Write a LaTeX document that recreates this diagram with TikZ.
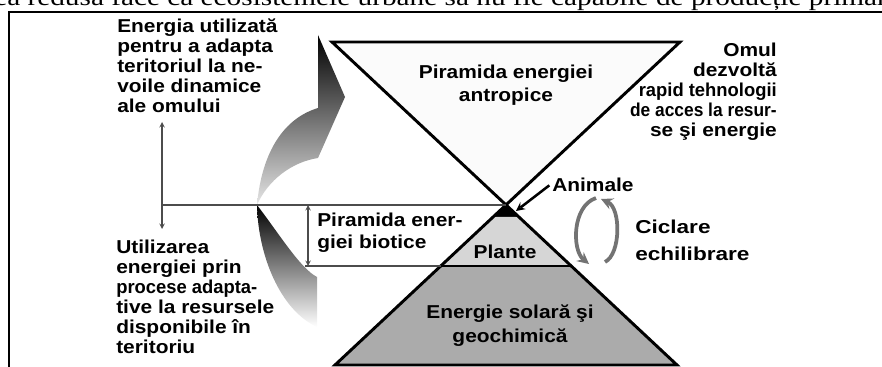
\documentclass[tikz,border=0pt]{standalone}
\usepackage{fontspec}
\setmainfont{Liberation Serif}
\newfontfamily\lblfont[FakeStretch=1.12]{Liberation Sans}
\usetikzlibrary{positioning}
\newcommand{\narrowtxt}[2]{\scalebox{#1}[1]{#2}}
\tikzset{
  lbl/.style={font=\lblfont\bfseries\fontsize{14}{15}\selectfont, inner sep=0pt},
  edge line/.style={line width=2.2pt, line join=miter},
  thin line/.style={gray!60!black, line width=0.8pt},
  cycle arrow/.style={gray!90!black, line width=2.8pt, ->},
}

\begin{document}
\begin{tikzpicture}[x=0.75pt, y=-0.75pt, >=stealth]
\useasboundingbox (0,0) rectangle (882,367);

% text of the page above and the frame
\node [font=\fontsize{18}{18}\selectfont, anchor=base west, inner sep=0pt] (pagetxt) at (-6,6)
  {\narrowtxt{1.22}{ea redusă face ca ecosistemele urbane să nu fie capabile de producție primară}};
\draw [line width=1.6pt] (9,372) -- (9,12) -- (886,12);

% hourglass
\coordinate (top-l) at (332,42);
\coordinate (top-r) at (680,42);
\coordinate (cross) at (506,205);
\coordinate (base-l) at (335,365);
\coordinate (base-r) at (677,365);
\coordinate (plante-l) at (441,266);
\coordinate (plante-r) at (571,266);

\fill [gray!3] (top-l) -- (top-r) -- (cross) -- cycle;
\foreach \ya/\yb/\c in {205/217/black, 217/266/gray!32, 266/365/gray!66} {
  \pgfmathsetmacro\da{(\ya-205)*1.067}
  \pgfmathsetmacro\db{(\yb-205)*1.067}
  \fill [\c] (506-\da,\ya) -- (506+\da,\ya) -- (506+\db,\yb) -- (506-\db,\yb) -- cycle;
}
\draw [edge line] (top-l) -- (top-r) -- (base-l) -- (base-r) -- cycle;
\draw [edge line] (plante-l) -- (plante-r);

% big curved arrow
\coordinate (bend) at (257,205);
\shade [top color=black, bottom color=gray!20]
  (bend) .. controls (262,150) and (285,118) .. (318,108)
  -- (318,35) -- (345,97) -- (318,158)
  .. controls (292,162) and (268,180) .. (bend);
\shade [top color=black, bottom color=white]
  (bend) .. controls (258,255) and (280,310) .. (317,327)
  -- (317,277)
  .. controls (300,268) and (280,235) .. (bend);

% labels
\node [lbl, anchor=north west, align=left] (enutil) at (117,19)
  {Energia utilizată\\pentru a adapta\\teritoriul la ne-\\voile dinamice\\ale omului};
\node [lbl, anchor=north west, align=left] (utiliz) at (116,240)
  {Utilizarea\\energiei prin\\\narrowtxt{0.88}{procese adapta-}\\tive la resursele\\disponibile în\\teritoriu};
\node [lbl, anchor=north, align=center] (antrop) at (506,65)
  {Piramida energiei\\[2pt]antropice};
\node [lbl, anchor=north east, align=right] (omul) at (777,43)
  {Omul\\dezvoltă\\\narrowtxt{0.88}{rapid tehnologii}\\\narrowtxt{0.83}{de acces la resur-}\\se şi energie};
\node [lbl, anchor=base west] (animale) at (552,192) {Animale};
\node [lbl, anchor=north west, align=left] (biotic) at (317,213)
  {Piramida ener-\\[1pt]giei biotice};
\node [lbl, anchor=base] (plante) at (505,258) {Plante};
\node [lbl, anchor=north, align=center] (solar) at (510,305)
  {Energie solară şi\\[3pt]geochimică};
\node [lbl, anchor=north west, align=left] (ciclare) at (635,220)
  {\narrowtxt{1.08}{Ciclare}\\[5pt]\narrowtxt{1.08}{echilibrare}};

% thin guide lines
\coordinate (lv-top) at (162,122);
\coordinate (lv-bot) at (162,229);
\coordinate (lv-mid) at (162,205);
\coordinate (bio-top) at (308,205);
\coordinate (bio-bot) at (308,266);
\coordinate (bio-l) at (305,266);
\draw [thin line] (lv-mid) -- (cross);
\draw [thin line, <->] (lv-top) -- (lv-bot);
\draw [thin line] (bio-l) -- (plante-l);
\draw [thin line, <->] (bio-top) -- (bio-bot);

% arrow to the animals
\coordinate (tip) at (516,211);
\draw [->, line width=1.9pt] ([xshift=-2pt]animale.west) -- (tip);

% cycling arrows
\coordinate (cyc-l1) at (596,198);
\coordinate (cyc-l2) at (589,264);
\coordinate (cyc-r1) at (605,262);
\coordinate (cyc-r2) at (601,199);
\draw [cycle arrow] (cyc-l1) .. controls (572,206) and (572,250) .. (cyc-l2);
\draw [cycle arrow] (cyc-r1) .. controls (621,254) and (621,208) .. (cyc-r2);
\end{tikzpicture}
\end{document}
